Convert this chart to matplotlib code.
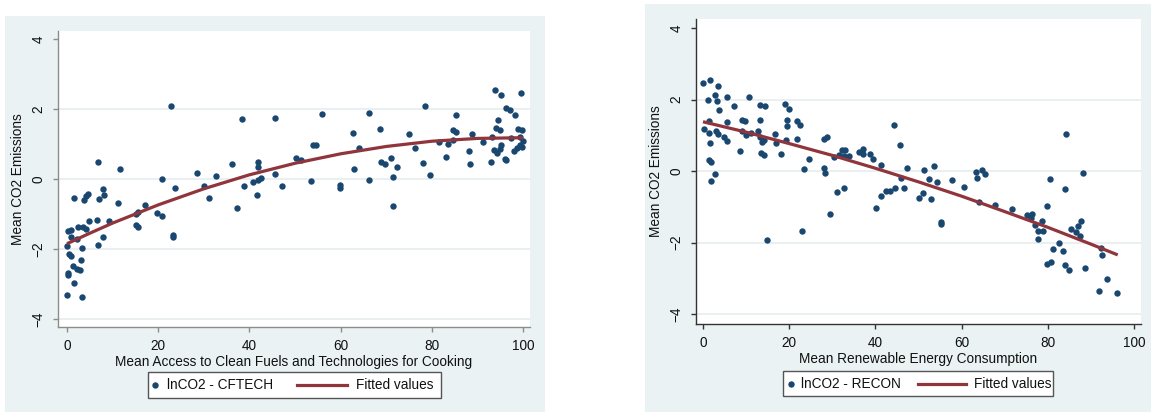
import matplotlib
matplotlib.use("Agg")
import matplotlib.pyplot as plt
from matplotlib.patches import Rectangle
from matplotlib.lines import Line2D

plt.rcParams['font.family'] = ['Liberation Sans', 'DejaVu Sans']

# ---------------- data ----------------
cftech_x = [22.9, 38.3, 45.5, 50.3, 6.9, 11.7, 36.2, 41.9, 41.9, 28.6, 32.7, 20.9, 42.5, 41.9, 40.8,
            45.6, 38.7, 47.2, 23.7, 30.0, 31.2, 41.7, 37.3, 1.6, 3.7, 4.2, 4.7, 7.1, 7.9, 8.2,
            11.1, 4.8, 6.5, 9.2, 17.2, 15.6, 15.1, 19.7, 20.9, 15.2, 15.6, 23.3, 23.3, 2.4, 3.5,
            4.1, 0.2, 0.8, 0.9, 2.1, 8.0, 6.8, 0.0, 3.4, 0.4, 0.9, 3.0, 1.3, 2.2, 2.9,
            0.3, 0.3, 1.5, 0.1, 3.4,
            51.3, 55.8, 54.0, 54.5, 53.5, 59.9, 59.9, 62.6, 64.0, 63.0, 66.1, 66.3, 68.6, 68.9, 69.7,
            71.1, 72.3, 71.5, 71.5, 74.9, 76.3, 78.0, 78.5, 79.5, 81.6, 83.0, 83.6, 84.7, 84.7, 85.2,
            85.3, 88.1, 88.3, 88.7, 91.3, 93.0, 93.1, 93.5, 93.8, 95.2, 94.4, 94.0, 95.0, 95.1, 94.2,
            94.9, 96.1, 96.2, 96.3, 97.1, 98.2, 99.6, 98.8, 99.7, 97.9, 98.6, 99.2, 99.7, 99.9, 99.3, 97.4]
cftech_y = [2.09, 1.71, 1.75, 0.59, 0.49, 0.29, 0.43, 0.48, 0.35, 0.17, 0.09, 0.0, 0.04, -0.03, -0.08,
            0.15, -0.19, -0.21, -0.25, -0.2, -0.55, -0.47, -0.83, -0.55, -0.61, -0.49, -0.44, -0.57, -0.28, -0.46,
            -0.68, -1.2, -1.17, -1.19, -0.75, -0.93, -1.01, -0.96, -1.05, -1.32, -1.37, -1.61, -1.67, -1.37, -1.36,
            -1.44, -1.49, -1.47, -1.65, -1.71, -1.66, -1.89, -1.91, -1.98, -2.14, -2.2, -2.31, -2.5, -2.56, -2.59,
            -2.68, -2.73, -2.97, -3.32, -3.38,
            0.54, 1.85, 0.98, 0.96, -0.06, -0.18, -0.27, 1.31, 0.9, 0.28, 1.88, -0.02, 1.44, 0.49, 0.42,
            0.59, 0.35, 0.05, -0.77, 1.29, 0.89, 0.46, 2.09, 0.11, 1.05, 0.62, 1.01, 1.11, 1.4, 1.35,
            1.83, 0.79, 0.42, 1.3, 1.06, 0.48, 1.21, 0.83, 2.54, 2.39, 1.69, 1.46, 1.4, 0.98, 0.74,
            0.86, 0.58, 0.55, 2.02, 1.97, 1.83, 2.47, 1.42, 1.4, 0.79, 0.88, 0.97, 0.92, 1.09, 1.21, 1.16]
cftech_fit_x = [0, 5, 10, 20, 30, 40, 50, 60, 70, 80, 90, 100]
cftech_fit_y = [-1.85, -1.55, -1.26, -0.74, -0.28, 0.12, 0.45, 0.72, 0.93, 1.08, 1.16, 1.18]

recon_x = [0.1, 1.6, 3.4, 1.1, 2.7, 3.2, 5.6, 3.8, 7.1, 10.7, 13.3, 14.4, 19.1, 20.0, 1.5,
           0.3, 1.5, 3.0, 3.4, 5.5, 4.9, 5.6, 9.1, 9.7, 9.0, 10.0, 11.1, 13.2, 12.7, 13.3,
           13.8, 14.2, 16.7, 16.9, 19.2, 19.6, 19.5, 21.9, 22.4, 21.9, 8.7, 13.5, 14.2, 18.0, 1.6,
           1.5, 1.9, 2.9, 1.8, 24.7, 23.5, 28.1, 28.8, 28.0, 28.3, 32.2, 32.9, 31.6, 32.7, 33.8,
           30.5, 31.0, 32.6, 29.5, 23.0, 14.8, 36.3, 37.1, 37.1, 38.8, 39.4, 41.2, 44.3, 45.6, 47.4,
           51.2, 45.9, 46.6, 44.6, 42.5, 43.4, 41.3, 40.1, 50.2, 51.0,
           53.7, 52.4, 54.2, 52.9, 55.2, 55.2, 57.8, 60.5, 63.3, 63.6, 64.7, 65.3, 64.1, 67.8, 71.7,
           75.2, 76.4, 76.1, 76.9, 77.8, 78.8, 78.7, 77.8, 79.8, 80.6, 84.2, 84.0, 88.2, 82.6, 81.3,
           83.6, 79.8, 80.8, 84.0, 85.0, 85.3, 86.5, 87.1, 87.6, 87.5, 88.6, 92.3, 92.6, 93.7, 91.9, 96.0]
recon_y = [2.47, 2.54, 2.39, 2.0, 2.13, 1.96, 2.08, 1.70, 1.82, 2.08, 1.84, 1.82, 1.88, 1.74, 1.40,
           1.17, 1.07, 1.12, 1.05, 1.38, 0.96, 0.85, 1.42, 1.40, 1.11, 1.01, 1.07, 1.44, 1.11, 0.94,
           0.82, 0.87, 1.05, 0.78, 0.88, 1.42, 1.27, 1.40, 1.28, 0.91, 0.57, 0.52, 0.44, 0.49, 0.78,
           0.30, 0.26, -0.08, -0.27, 0.34, 0.05, 0.89, 0.95, 0.10, -0.04, 0.58, 0.58, 0.45, 0.41, 0.42,
           0.40, -0.59, -0.47, -1.19, -1.68, -1.93, 0.53, 0.62, 0.49, 0.47, 0.34, 0.16, 1.30, 0.73, 0.08,
           0.03, -0.20, -0.47, -0.48, -0.56, -0.56, -0.70, -1.03, -0.76, -0.62,
           0.13, -0.21, -0.29, -0.79, -1.41, -1.48, -0.25, -0.44, -0.01, -0.20, 0.02, -0.09, -0.86, -0.95, -1.07,
           -1.22, -1.21, -1.32, -1.50, -1.68, -1.68, -1.39, -1.90, -0.98, -0.22, 1.04, -0.50, -0.04, -2.0, -2.17,
           -2.23, -2.60, -2.54, -2.61, -2.75, -1.62, -1.70, -1.52, -1.38, -1.81, -2.70, -2.14, -2.34, -3.0, -3.35, -3.41]
recon_fit_x = [0, 10, 20, 30, 40, 50, 60, 70, 80, 90, 96.2]
recon_fit_y = [1.38, 1.09, 0.77, 0.44, 0.08, -0.30, -0.70, -1.13, -1.57, -2.04, -2.34]

xticks = [0, 20, 40, 60, 80, 100]
yticks = [-4, -2, 0, 2, 4]
grid_y = [-4, -2, 0, 2]

# ---------------- layout ----------------
W, H = 1151, 412
fig = plt.figure(figsize=(W / 100, H / 100), dpi=100)
fig.patch.set_facecolor('white')

BG = '#eaf2f3'
NAVY = '#1a476f'
MAROON = '#90353b'
FS = 9.8


def fx(px):
    return px / W


def fy(py):
    return 1 - py / H


def panel(box, plot, xlim, ylim, xs, ys, fit_x, fit_y, xlabel, leg_box, leg_items, spine_color):
    bx0, by0, bx1, by1 = box
    fig.patches.append(Rectangle((fx(bx0), fy(by1)), fx(bx1) - fx(bx0), fy(by0) - fy(by1),
                                 transform=fig.transFigure, facecolor=BG, edgecolor='none', zorder=-5))
    x0, y0, x1, y1 = plot
    ax = fig.add_axes([fx(x0), fy(y1), fx(x1) - fx(x0), fy(y0) - fy(y1)])
    ax.set_zorder(1)
    ax.set_facecolor('white')
    ax.set_xlim(*xlim)
    ax.set_ylim(*ylim)
    for g in grid_y:
        ax.axhline(g, color='#e6eef0', lw=1.2, zorder=1)
    ax.plot(xs, ys, 'o', color=NAVY, ms=4.6, mec='none', zorder=3)
    ax.plot(fit_x, fit_y, '-', color=MAROON, lw=2.3, zorder=4, solid_capstyle='butt')
    for s in ['top', 'right']:
        ax.spines[s].set_visible(False)
    for s in ['left', 'bottom']:
        ax.spines[s].set_color(spine_color)
        ax.spines[s].set_linewidth(1.0)
    ax.set_xticks(xticks)
    ax.set_yticks(yticks)
    ax.tick_params(axis='both', direction='out', length=3.8, width=1.0, color=spine_color,
                   labelsize=FS, labelcolor='#111111', pad=5)
    ax.tick_params(axis='y', labelrotation=90)
    for lab in ax.get_yticklabels():
        lab.set_va('center')
    # axis titles
    fig.text(fx((x0 + x1) / 2), fy(y1 + 35), xlabel, ha='center', va='center',
             fontsize=FS, color='#111111')
    fig.text(fx(x0 - 40), fy((y0 + y1) / 2), 'Mean CO2 Emissions', rotation=90,
             ha='center', va='center', fontsize=FS, color='#111111')
    # legend
    lx0, ly0, lx1, ly1 = leg_box
    fig.patches.append(Rectangle((fx(lx0), fy(ly1)), fx(lx1) - fx(lx0), fy(ly0) - fy(ly1),
                                 transform=fig.transFigure, facecolor='white',
                                 edgecolor='#555555', lw=1.0, zorder=5))
    cy = (ly0 + ly1) / 2
    dot_x, t1_x, l_x0, l_x1, t2_x, lab1 = leg_items
    fig.add_artist(Line2D([fx(dot_x)], [fy(cy)], marker='o', ms=4.6, color=NAVY, mec='none',
                          transform=fig.transFigure, zorder=6))
    fig.text(fx(t1_x), fy(cy), lab1, ha='left', va='center', fontsize=FS, color='#111111', zorder=6)
    fig.add_artist(Line2D([fx(l_x0), fx(l_x1)], [fy(cy), fy(cy)], color=MAROON, lw=2.3,
                          transform=fig.transFigure, zorder=6))
    fig.text(fx(t2_x), fy(cy), 'Fitted values', ha='left', va='center', fontsize=FS,
             color='#111111', zorder=6)
    return ax


panel(box=(5, 16, 545, 412), plot=(58, 31, 530, 327),
      xlim=(-1.97, 101.5), ylim=(-4.23, 4.23),
      xs=cftech_x, ys=cftech_y, fit_x=cftech_fit_x, fit_y=cftech_fit_y,
      xlabel='Mean Access to Clean Fuels and Technologies for Cooking',
      leg_box=(148, 372, 441, 398),
      leg_items=(155, 167, 297, 347, 356, 'lnCO2 - CFTECH'),
      spine_color='#8c8c8c')

panel(box=(645, 4, 1151, 412), plot=(696, 19, 1141, 324),
      xlim=(-1.62, 101.6), ylim=(-4.27, 4.25),
      xs=recon_x, ys=recon_y, fit_x=recon_fit_x, fit_y=recon_fit_y,
      xlabel='Mean Renewable Energy Consumption',
      leg_box=(783, 371, 1053, 396),
      leg_items=(791, 801, 918, 966, 974, 'lnCO2 - RECON'),
      spine_color='#333333')

fig.savefig('out.png', dpi=100, facecolor='white')
